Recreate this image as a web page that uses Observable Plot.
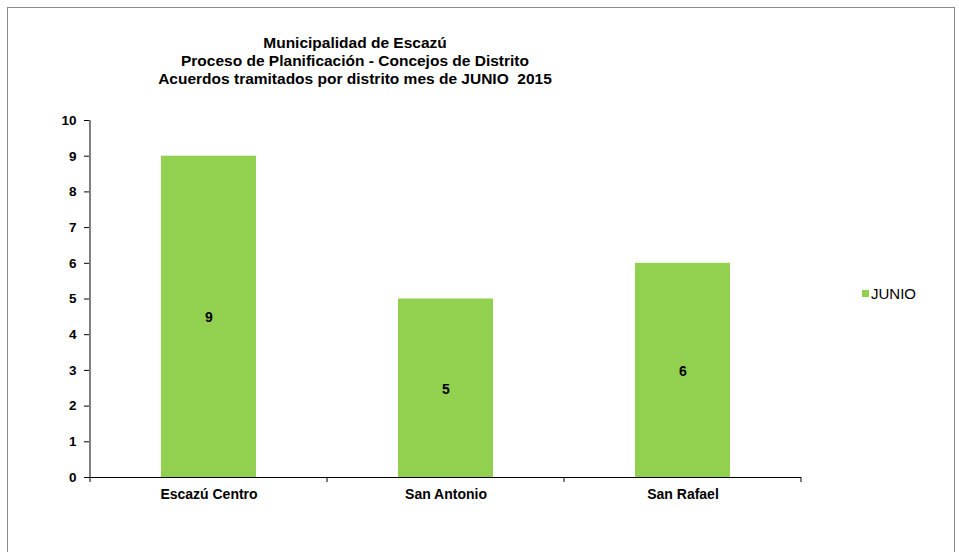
<!DOCTYPE html>
<html>
<head>
<meta charset="utf-8">
<script src="https://cdn.jsdelivr.net/npm/d3@7"></script>
<script src="https://cdn.jsdelivr.net/npm/@observablehq/plot@0.6"></script>
<style>
  html, body { margin: 0; padding: 0; background: #fff; }
  #wrap { position: relative; width: 959px; height: 552px; overflow: hidden; font-family: "Liberation Sans", Arial, sans-serif; }
  #border { position: absolute; left: 7px; top: 7px; width: 948px; height: 560px; border: 1px solid #8c8c8c; box-sizing: border-box; }
  #title { position: absolute; left: 0; width: 710px; top: 34px; text-align: center; font-weight: bold; font-size: 15.5px; line-height: 18px; color: #000; }
  #legend { position: absolute; left: 862px; top: 285px; font-size: 15px; color: #000; display: flex; align-items: center; }
  #legend span.sw { display: inline-block; width: 7px; height: 7px; background: #92D050; margin-right: 2px; }
  #chart { position: absolute; left: 0; top: 0; }
</style>
</head>
<body>
<div id="wrap">
  <div id="border"></div>
  <div id="chart"></div>
  <div id="title">Municipalidad de Escazú<br>Proceso de Planificación - Concejos de Distrito<br>Acuerdos tramitados por distrito mes de JUNIO&nbsp; 2015</div>
  <div id="legend"><span class="sw"></span>JUNIO</div>
</div>
<script>
const categories = ["Escazú Centro", "San Antonio", "San Rafael"];
const values = [9, 5, 6];
const yTicks = [0, 1, 2, 3, 4, 5, 6, 7, 8, 9, 10];
const seriesName = "JUNIO";

const data = categories.map((c, i) => ({ distrito: c, valor: values[i] }));

const W = 959, H = 552;
const plot = Plot.plot({
  width: W,
  height: H,
  marginLeft: 89,
  marginRight: 158,
  marginTop: 120,
  marginBottom: 75,
  style: { fontFamily: "'Liberation Sans', Arial, sans-serif", background: "transparent" },
  x: { domain: categories, padding: 0, label: null },
  y: { domain: [0, 10], label: null },
  marks: [
    Plot.barY(data, { x: "distrito", y: "valor", fill: "#92D050", insetLeft: 71, insetRight: 71 }),
    Plot.text(data, { x: "distrito", y: d => d.valor / 2, dy: 1, text: d => String(d.valor), fontWeight: "bold", fontSize: 14, fill: "#000" }),
    Plot.ruleY([0], { stroke: "#000", strokeWidth: 1 }),
    Plot.axisY({ ticks: yTicks, tickSize: 5, tickPadding: 8, fontSize: 13.5, fontWeight: "bold", stroke: "#000", color: "#000", label: null }),
    Plot.axisX({ tickSize: 0, tickPadding: 12, fontSize: 14, fontWeight: "bold", color: "#000", label: null })
  ]
});
document.getElementById("chart").appendChild(plot);

// y axis line and category boundary ticks using the plot's scales
const xs = plot.scale("x"), ys = plot.scale("y");
const svg = d3.select(plot);
const y0 = ys.apply(0), y10 = ys.apply(10);
const xLeft = xs.apply(categories[0]);
svg.append("line").attr("x1", xLeft).attr("x2", xLeft).attr("y1", y10).attr("y2", y0).attr("stroke", "#000");
const bounds = [xLeft].concat(categories.map(c => xs.apply(c) + xs.bandwidth));
bounds.forEach(b => {
  svg.append("line").attr("x1", b).attr("x2", b).attr("y1", y0).attr("y2", y0 + 5).attr("stroke", "#000");
});
</script>
</body>
</html>
